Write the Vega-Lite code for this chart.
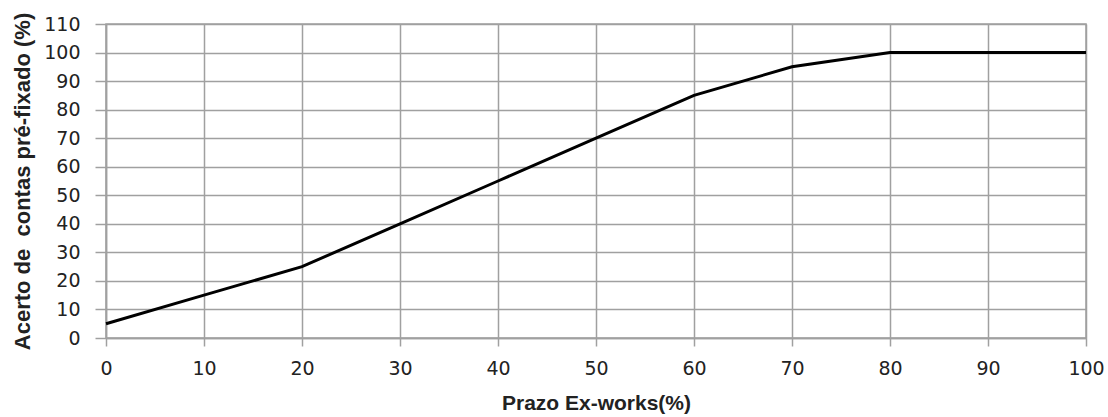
{
  "$schema": "https://vega.github.io/schema/vega-lite/v6.json",
  "autosize": "none",
  "padding": {"left": 106, "top": 24, "right": 22, "bottom": 79},
  "width": 980,
  "height": 314,
  "background": "white",
  "config": {
    "view": {"stroke": "#a0a0a0", "strokeWidth": 1.5},
    "font": "DejaVu Sans"
  },
  "data": {
    "values": [
      {"x": 0, "y": 5},
      {"x": 10, "y": 15},
      {"x": 20, "y": 25},
      {"x": 30, "y": 40},
      {"x": 40, "y": 55},
      {"x": 50, "y": 70},
      {"x": 60, "y": 85},
      {"x": 70, "y": 95},
      {"x": 80, "y": 100},
      {"x": 90, "y": 100},
      {"x": 100, "y": 100}
    ]
  },
  "mark": {"type": "line", "color": "black", "strokeWidth": 3},
  "encoding": {
    "x": {
      "field": "x",
      "type": "quantitative",
      "scale": {"domain": [0, 100], "nice": false, "zero": false},
      "axis": {
        "values": [0, 10, 20, 30, 40, 50, 60, 70, 80, 90, 100],
        "title": "Prazo Ex-works(%)",
        "titleFont": "Liberation Sans",
        "titleFontSize": 21,
        "titleFontWeight": "bold",
        "titleColor": "#222",
        "titlePadding": 14,
        "labelFontSize": 19,
        "labelColor": "#222",
        "labelPadding": 13,
        "labelFlush": false,
        "tickSize": 8,
        "tickColor": "#a0a0a0",
        "tickWidth": 1.5,
        "domainColor": "#a0a0a0",
        "domainWidth": 1.5,
        "gridColor": "#a0a0a0",
        "gridWidth": 1.5
      }
    },
    "y": {
      "field": "y",
      "type": "quantitative",
      "scale": {"domain": [0, 110], "nice": false},
      "axis": {
        "values": [0, 10, 20, 30, 40, 50, 60, 70, 80, 90, 100, 110],
        "title": "Acerto de\u00a0 contas pré-fixado (%)",
        "titleFont": "Liberation Sans",
        "titleFontSize": 22,
        "titleFontWeight": "bold",
        "titleColor": "#222",
        "titlePadding": 9,
        "labelFontSize": 19,
        "labelColor": "#222",
        "labelPadding": 15,
        "labelFlush": false,
        "tickSize": 11,
        "tickColor": "#a0a0a0",
        "tickWidth": 1.5,
        "domainColor": "#a0a0a0",
        "domainWidth": 1.5,
        "gridColor": "#a0a0a0",
        "gridWidth": 1.5
      }
    }
  }
}
